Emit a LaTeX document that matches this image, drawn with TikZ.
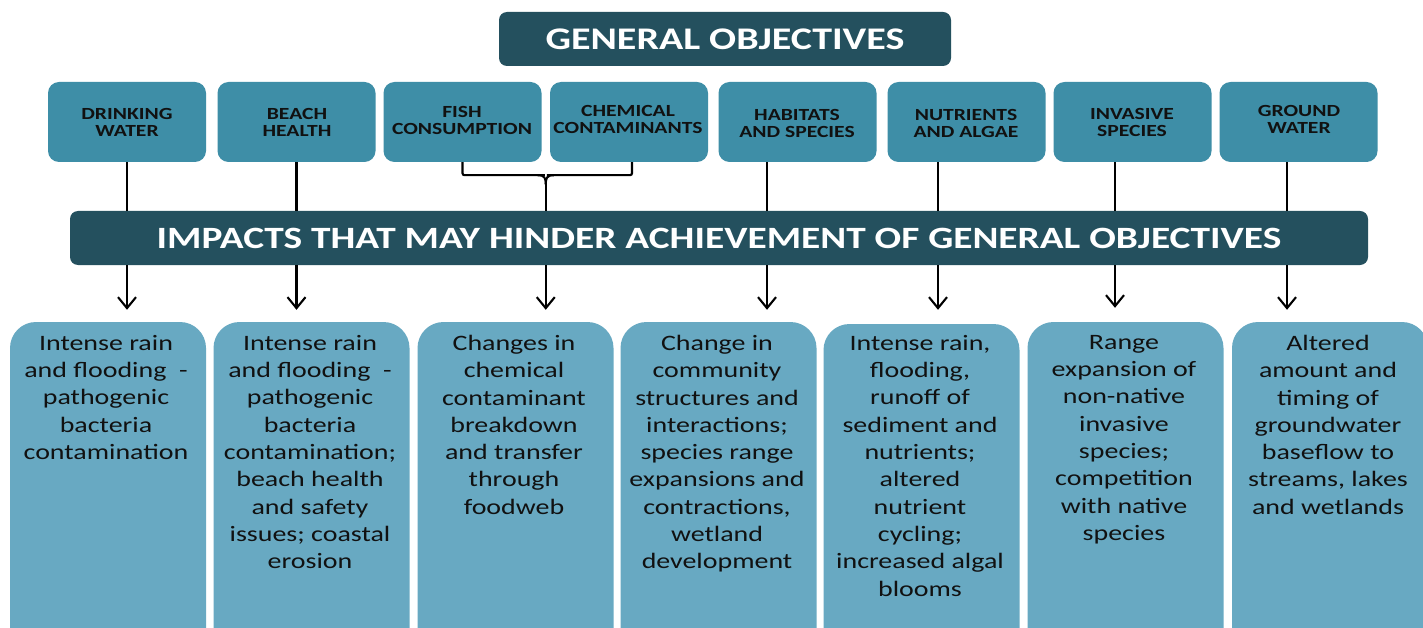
\documentclass[tikz,border=0pt]{standalone}
\usepackage{fontspec}
\setmainfont{Carlito}[FakeStretch=1.27]
\usetikzlibrary{arrows.meta,calc}
\definecolor{darkteal}{HTML}{24505E}
\definecolor{midteal}{HTML}{3E8EA7}
\definecolor{lightteal}{HTML}{68A9C2}
\definecolor{txt}{HTML}{111111}
\tikzset{
  hdr/.style={fill=darkteal, rounded corners=8pt, text=white, font=\fontsize{31.5}{31.5}\selectfont\bfseries, inner sep=0pt},
  objbox/.style={fill=midteal, rounded corners=11pt, minimum width=158pt, minimum height=80pt, inner sep=0pt},
  objtxt/.style={text=txt, font=\fontsize{17}{17}\selectfont\bfseries, align=center, inner sep=0pt},
  impbox/.style={fill=lightteal, rounded corners=26pt, minimum width=196pt, minimum height=340pt, inner sep=0pt},
  imptxt/.style={text=txt, font=\fontsize{22}{27.3}\selectfont, align=center, inner sep=0pt, anchor=north},
  conn/.style={line width=2.1pt, black},
  arr/.style={conn, -{Straight Barb[length=11pt,width=18pt,line width=2.1pt]}},
  brk/.style={conn, rounded corners=2pt}
}
\begin{document}
\begin{tikzpicture}[x=1pt,y=-1pt]
\useasboundingbox (0,0) rectangle (1423,628);
\clip (0,0) rectangle (1423,628);
\fill[white] (0,0) rectangle (1423,628);

% header
\node[hdr, minimum width=452pt, minimum height=54pt] (go) at (725,39) {GENERAL OBJECTIVES};

% objective boxes
\node[objbox] (t1) at (127,122) {};
\node[objbox] (t2) at (296.5,122) {};
\node[objbox] (t3) at (462.5,122) {};
\node[objbox] (t4) at (629,122) {};
\node[objbox] (t5) at (797.5,122) {};
\node[objbox] (t6) at (966.5,122) {};
\node[objbox] (t7) at (1132.5,122) {};
\node[objbox] (t8) at (1298.5,122) {};
\node[objtxt] (l1) at (127,122.5) {DRINKING\\WATER};
\node[objtxt] (l2) at (297,122.5) {BEACH\\HEALTH};
\node[objtxt] (l3) at (462,120) {FISH\\CONSUMPTION};
\node[objtxt] (l4) at (628,119.5) {CHEMICAL\\CONTAMINANTS};
\node[objtxt] (l5) at (797,123) {HABITATS\\AND SPECIES};
\node[objtxt] (l6) at (966,123) {NUTRIENTS\\AND ALGAE};
\node[objtxt] (l7) at (1132,122) {INVASIVE\\SPECIES};
\node[objtxt] (l8) at (1299,119.5) {GROUND\\WATER};

% impacts bar
\node[hdr, minimum width=1298pt, minimum height=54pt, font=\fontsize{31}{31}\selectfont\bfseries] (imp) at (719,238) {IMPACTS THAT MAY HINDER ACHIEVEMENT OF GENERAL OBJECTIVES};

% impact boxes
\node[impbox] (c1) at (108,492) {};
\node[impbox] (c2) at (311.5,492) {};
\node[impbox] (c3) at (515.5,492) {};
\node[impbox] (c4) at (718.5,492) {};
\node[impbox] (c5) at (921.5,494) {};
\node[impbox] (c6) at (1125.5,492) {};
\node[impbox] (c7) at (1330,492) {};

\node[imptxt] (d1) at (106,335) {Intense rain\\and flooding\ \ -\\pathogenic\\bacteria\\contamination};
\node[imptxt] (d2) at (310,335) {Intense rain\\and flooding\ \ -\\pathogenic\\bacteria\\contamination;\\beach health\\and safety\\issues; coastal\\erosion};
\node[imptxt] (d3) at (514,335) {Changes in\\chemical\\contaminant\\breakdown\\and transfer\\through\\foodweb};
\node[imptxt] (d4) at (717,335) {Change in\\community\\structures and\\interactions;\\species range\\expansions and\\contractions,\\wetland\\development};
\node[imptxt] (d5) at (920,335) {Intense rain,\\flooding,\\runoff of\\sediment and\\nutrients;\\altered\\nutrient\\cycling;\\increased algal\\blooms};
\node[imptxt] (d6) at (1124,335) {Range\\expansion of\\non-native\\invasive\\species;\\competition\\with native\\species};
\node[imptxt] (d7) at (1328,335) {Altered\\amount and\\timing of\\groundwater\\baseflow to\\streams, lakes\\and wetlands};

% connectors objectives -> impacts bar
\draw[conn] (t1.south) -- (t1.south |- imp.north);
\draw[conn] (t2.south) -- (t2.south |- imp.north);
\draw[conn] ([xshift=-30.5pt]t5.south) -- ([xshift=-30.5pt]t5.south |- imp.north);
\draw[conn] ([xshift=-28.5pt]t6.south) -- ([xshift=-28.5pt]t6.south |- imp.north);
\draw[conn] ([xshift=-17.5pt]t7.south) -- ([xshift=-17.5pt]t7.south |- imp.north);
\draw[conn] ([xshift=-11.5pt]t8.south) -- ([xshift=-11.5pt]t8.south |- imp.north);

% bracket for fish / chemical
\coordinate (bm) at ($(t3.south)!0.5!(t4.south)$);
\draw[brk] (t3.south) -- ([yshift=-13pt]t3.south) -- ([xshift=-1pt,yshift=-13pt]bm);
\draw[brk] ([xshift=3pt]t4.south) -- ([xshift=3pt,yshift=-13pt]t4.south) -- ([xshift=1pt,yshift=-13pt]bm);
\draw[conn] ([xshift=-8pt,yshift=-13pt]bm) .. controls ([xshift=-1pt,yshift=-13pt]bm) and ([yshift=-16pt]bm) .. ([yshift=-22pt]bm);
\draw[conn] ([xshift=8pt,yshift=-13pt]bm) .. controls ([xshift=1pt,yshift=-13pt]bm) and ([yshift=-16pt]bm) .. ([yshift=-22pt]bm);
\draw[conn] ([yshift=-22pt]bm) -- (bm |- imp.north);

% arrows impacts bar -> impact boxes
\draw[arr] (t1.south |- imp.south) -- ([yshift=12pt]t1.south |- c1.north);
\draw[arr] (t2.south |- imp.south) -- ([yshift=12pt]t2.south |- c2.north);
\draw[arr] (bm |- imp.south) -- ([yshift=12pt]bm |- c3.north);
\draw[arr] ([xshift=-30.5pt]t5.south |- imp.south) -- ([xshift=-30.5pt,yshift=12pt]t5.south |- c4.north);
\draw[arr] ([xshift=-28.5pt]t6.south |- imp.south) -- ([xshift=-28.5pt,yshift=12pt]t6.south |- c4.north);
\draw[arr] ([xshift=-17.5pt]t7.south |- imp.south) -- ([xshift=-17.5pt,yshift=14pt]t7.south |- c6.north);
\draw[arr] ([xshift=-11.5pt]t8.south |- imp.south) -- ([xshift=-11.5pt,yshift=12pt]t8.south |- c7.north);
\end{tikzpicture}
\end{document}
